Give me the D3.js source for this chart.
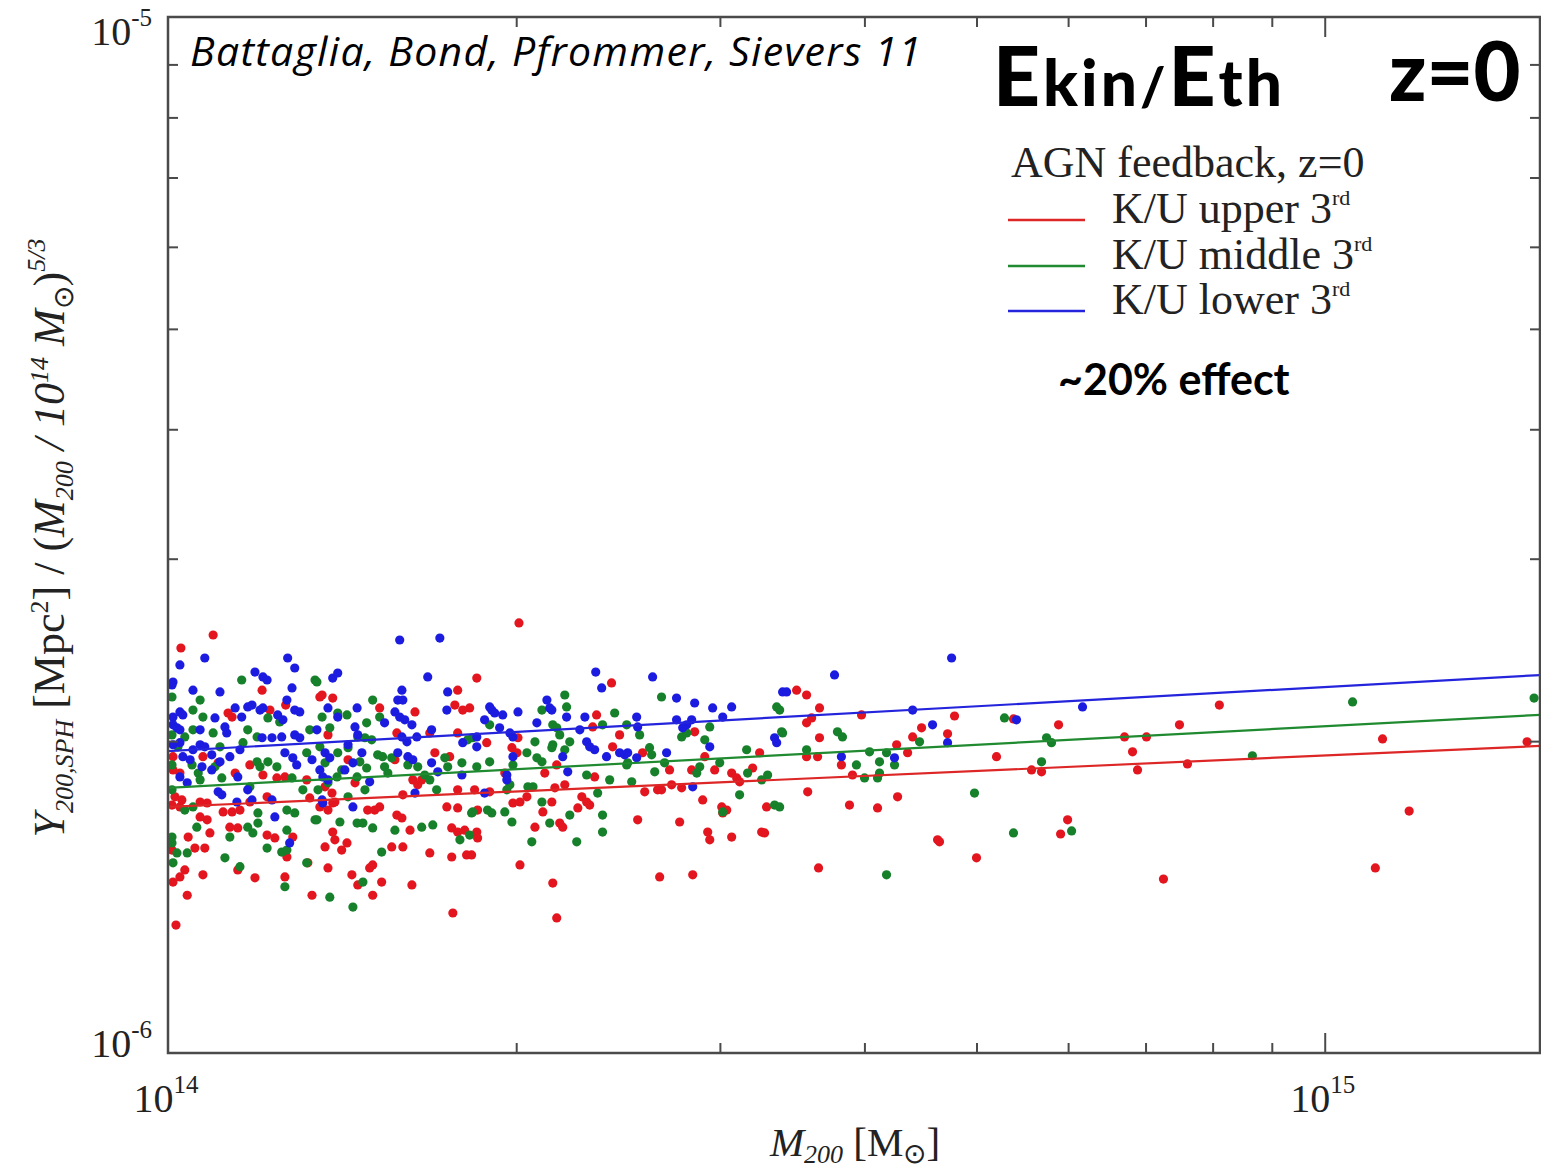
<!DOCTYPE html>
<html>
<head>
<meta charset="utf-8">
<script src="https://cdn.jsdelivr.net/npm/d3@7"></script>
<style>
  html, body { margin: 0; padding: 0; background: #fff; }
  svg { display: block; }
</style>
</head>
<body>
<svg id="chart" width="1541" height="1169"></svg>
<script>
// Y200 scaled by mass^(5/3) versus M200, AGN feedback run at z=0,
// split by kinetic-to-thermal energy ratio (K/U) into thirds.
// Masses are in units of 1e14 Msun, Y in units of 1e-6 Mpc^2.

const series = ["upper", "middle", "lower"];
const seriesLabels = ["K/U upper 3", "K/U middle 3", "K/U lower 3"];

const upperThird = [
  [1.094,2.532],[1.026,2.460],[1.206,2.240],[1.353,2.206],[1.127,2.129],[1.136,2.110],[1.225,2.143],[1.264,2.167],
  [1.010,1.932],[1.072,1.932],[1.105,1.906],[1.010,1.876],[1.024,1.863],[1.143,1.863],[1.177,1.897],[1.208,1.855],
  [1.242,1.843],[1.262,1.847],[1.318,1.835],[1.014,1.767],[1.028,1.755],[1.008,1.735],[1.024,1.728],[1.066,1.747],
  [1.081,1.743],[1.116,1.709],[1.136,1.709],[1.154,1.716],[1.177,1.747],[1.218,1.767],[1.326,1.763],[1.066,1.690],
  [1.081,1.679],[1.131,1.652],[1.149,1.649],[1.087,1.631],[1.041,1.616],[1.218,1.623],[1.237,1.613],[1.282,1.616],
  [1.055,1.577],[1.076,1.577],[1.008,1.570],[1.267,1.546],[1.034,1.502],[1.024,1.479],[1.010,1.462],[1.072,1.486],
  [1.149,1.502],[1.189,1.476],[1.262,1.479],[1.321,1.526],[1.039,1.420],[1.332,1.420],[1.016,1.329],
  [1.849,2.301],[1.359,2.216],[1.388,2.201],[1.780,2.240],[1.770,2.167],[1.798,2.143],[1.823,2.153],[1.524,2.153],
  [1.635,2.134],[1.375,2.028],[1.577,2.037],[1.684,2.037],[1.701,1.949],[1.431,1.919],[1.752,1.932],[1.571,1.919],
  [1.780,2.037],[1.628,1.835],[1.644,1.815],[1.657,1.835],[1.451,1.823],[1.367,1.807],[1.386,1.782],[1.394,1.747],
  [1.353,1.728],[1.375,1.716],[1.388,1.743],[1.488,1.716],[1.509,1.716],[1.524,1.728],[1.596,1.775],[1.780,1.795],
  [1.742,1.728],[1.780,1.724],[1.577,1.697],[1.593,1.686],[1.619,1.641],[1.388,1.634],[1.394,1.606],[1.759,1.649],
  [1.780,1.634],[1.805,1.641],[1.428,1.595],[1.367,1.581],[1.413,1.570],[1.561,1.581],[1.596,1.581],[1.684,1.560],
  [1.759,1.546],[1.812,1.553],[1.375,1.509],[1.442,1.486],[1.494,1.509],[1.503,1.519],[1.459,1.453],[1.530,1.462],
  [1.625,1.453],[1.503,1.420],[1.763,1.365],
  [2.011,2.601],[2.418,2.276],[2.347,2.120],[2.329,2.064],[2.457,2.028],[2.007,2.015],[1.886,1.993],[2.423,1.975],
  [1.983,1.971],[2.003,1.949],[2.168,1.897],[2.117,1.863],[1.955,1.863],[2.338,1.847],[1.841,1.795],[1.897,1.787],
  [2.160,1.803],[2.203,1.815],[2.043,1.767],[2.279,1.767],[2.301,1.747],[2.315,1.735],[2.261,1.724],[1.987,1.743],
  [2.015,1.747],[2.147,1.747],[1.852,1.716],[2.109,1.709],[2.181,1.667],[2.194,1.652],[2.076,1.652],[1.849,1.634],
  [1.852,1.613],[1.830,1.553],[2.015,1.519],[2.151,1.459],[2.168,1.350],
  [2.853,2.042],[2.572,1.949],[2.911,1.932],[3.247,1.949],[2.714,1.876],[2.836,1.876],[2.969,1.876],[3.202,1.884],
  [3.071,1.863],[3.102,1.843],[3.120,1.827],[2.583,1.787],[2.650,1.795],[2.671,1.795],[2.725,1.815],[2.780,1.803],
  [2.899,1.755],[3.011,1.728],[3.041,1.716],[3.017,1.705],[3.292,1.728],[2.547,1.679],[2.769,1.671],[2.928,1.634],
  [2.940,1.606],[3.071,1.616],[3.260,1.634],[3.279,1.631],[2.661,1.479],[2.842,1.486],
  [3.495,2.240],[3.565,2.216],[3.658,2.153],[3.601,2.106],[3.565,2.083],[3.977,2.120],[3.658,2.015],[4.482,2.060],
  [4.403,2.019],[4.265,1.984],[4.359,1.949],[3.565,1.932],[3.644,1.932],[3.821,1.897],[3.906,1.855],[3.573,1.787],
  [4.273,1.767],[3.883,1.735],[4.106,1.724],[4.627,1.606],[3.651,1.509],
  [4.786,2.115],[5.382,2.101],[5.887,2.074],[4.720,2.033],[5.203,1.932],[5.579,1.876],[5.691,1.868],[8.108,2.167],
  [7.489,2.074],[6.713,2.019],[7.013,2.019],[6.821,1.953],[6.889,1.876],[7.609,1.901],[5.994,1.679],[5.911,1.627],
  [4.645,1.599],[5.000,1.543],[7.254,1.472],
  [11.22,2.010],[14.96,1.997],[11.83,1.712],[11.06,1.509]
];

const middleThird = [
  [1.158,2.291],[1.340,2.291],[1.008,2.206],[1.066,2.191],[1.051,2.143],[1.072,2.110],[1.220,2.106],[1.249,2.087],
  [1.008,2.028],[1.034,2.019],[1.051,2.051],[1.094,2.037],[1.172,2.051],[1.194,2.019],[1.326,2.051],[1.020,1.975],
  [1.109,1.975],[1.161,1.993],[1.318,1.949],[1.008,1.897],[1.049,1.897],[1.062,1.863],[1.098,1.889],[1.194,1.910],
  [1.201,1.889],[1.220,1.910],[1.242,1.889],[1.280,1.843],[1.308,1.795],[1.066,1.835],[1.113,1.843],[1.177,1.807],
  [1.008,1.795],[1.034,1.716],[1.051,1.728],[1.196,1.705],[1.267,1.716],[1.287,1.705],[1.340,1.679],[1.059,1.652],
  [1.172,1.652],[1.184,1.631],[1.196,1.667],[1.267,1.641],[1.008,1.616],[1.008,1.595],[1.131,1.616],[1.218,1.577],
  [1.039,1.560],[1.018,1.560],[1.254,1.563],[1.267,1.570],[1.120,1.543],[1.010,1.526],[1.154,1.513],[1.318,1.526],
  [1.262,1.447],
  [1.345,2.281],[1.503,2.191],[1.359,2.110],[1.402,2.129],[1.428,2.120],[1.485,2.083],[1.524,2.110],[1.380,2.060],
  [1.459,2.019],[1.480,2.015],[1.500,2.006],[1.353,1.975],[1.431,1.971],[1.402,1.949],[1.518,1.940],[1.533,1.932],
  [1.465,1.910],[1.485,1.884],[1.367,1.906],[1.561,1.927],[1.539,1.889],[1.549,1.863],[1.612,1.897],[1.644,1.889],
  [1.667,1.855],[1.684,1.835],[1.707,1.795],[1.413,1.876],[1.400,1.847],[1.457,1.847],[1.480,1.795],[1.431,1.767],
  [1.348,1.795],[1.375,1.823],[1.735,1.927],[1.745,1.889],[1.795,1.906],[1.816,2.006],[1.830,1.705],[1.345,1.679],
  [1.408,1.671],[1.457,1.667],[1.474,1.667],[1.503,1.649],[1.571,1.641],[1.657,1.652],[1.694,1.660],[1.788,1.606],
  [1.823,1.623],[1.530,1.563],[1.474,1.462],[1.380,1.414],[1.445,1.383],
  [2.203,2.216],[2.105,2.143],[2.211,2.158],[2.433,2.129],[2.151,2.074],[2.168,2.060],[2.375,2.074],[2.492,2.074],
  [1.897,2.074],[1.834,2.015],[2.076,1.997],[2.151,1.984],[2.147,1.971],[2.181,2.028],[2.225,1.997],[2.203,1.962],
  [2.043,1.949],[2.084,1.927],[2.105,1.910],[1.897,1.910],[1.849,1.889],[1.987,1.897],[2.301,1.855],[2.409,1.835],
  [2.492,1.897],[1.975,1.815],[1.963,1.795],[2.047,1.807],[2.068,1.807],[2.352,1.782],[2.105,1.747],[1.834,1.709],
  [1.889,1.716],[1.905,1.705],[1.955,1.709],[1.983,1.671],[2.138,1.667],[2.225,1.697],[2.375,1.697],[2.375,1.634],
  [2.063,1.599],[2.256,1.599],
  [2.671,2.206],[3.359,2.158],[2.940,2.064],[2.557,2.028],[2.780,2.019],[2.808,2.037],[2.911,2.006],[3.392,2.042],
  [2.608,1.971],[2.619,1.940],[3.164,1.962],[2.497,1.906],[2.635,1.868],[2.687,1.906],[2.882,1.889],[2.865,1.863],
  [2.999,1.906],[3.170,1.863],[3.299,1.855],[3.260,1.835],[2.517,1.827],[3.120,1.775],[3.345,1.735],[3.017,1.709],
  [3.379,2.143],[3.399,2.037],[3.791,2.042],[3.829,2.019],[4.464,1.997],[3.565,1.962],[4.041,1.953],[4.180,1.949],
  [3.937,1.897],[4.122,1.910],[4.247,1.897],[4.001,1.843],[4.106,1.843],[4.122,1.863],[3.379,1.728],[4.180,1.486],
  [5.286,2.106],[5.748,2.015],[5.805,1.993],[5.691,1.910],[4.980,1.782],[5.382,1.631],[6.042,1.638],
  [10.57,2.182],[15.17,2.201],[8.659,1.936]
];

const lowerThird = [
  [1.024,2.369],[1.076,2.406],[1.269,2.406],[1.287,2.353],[1.189,2.332],[1.208,2.307],[1.218,2.291],[1.010,2.281],
  [1.008,2.266],[1.051,2.240],[1.109,2.231],[1.280,2.251],[1.267,2.191],[1.182,2.167],[1.172,2.158],[1.024,2.134],
  [1.030,2.120],[1.010,2.110],[1.143,2.153],[1.158,2.110],[1.098,2.106],[1.201,2.143],[1.208,2.153],[1.244,2.120],
  [1.257,2.097],[1.287,2.143],[1.300,2.134],[1.010,2.074],[1.018,2.060],[1.024,2.051],[1.120,2.064],[1.124,2.037],
  [1.066,2.051],[1.230,2.015],[1.254,2.019],[1.206,2.015],[1.287,2.028],[1.300,2.015],[1.010,1.984],[1.024,1.993],
  [1.066,1.984],[1.076,1.975],[1.051,1.962],[1.154,1.962],[1.091,1.940],[1.131,1.932],[1.262,1.949],[1.282,1.927],
  [1.332,1.919],[1.030,1.932],[1.045,1.919],[1.070,1.889],[1.091,1.876],[1.109,1.910],[1.149,1.847],[1.292,1.897],
  [1.105,1.787],[1.113,1.775],[1.147,1.747],[1.172,1.795],[1.182,1.755],[1.230,1.755],[1.237,1.690],[1.274,1.595],
  [1.024,1.847],[1.039,1.823],
  [1.586,2.504],[1.718,2.515],[1.388,2.301],[1.402,2.327],[1.677,2.307],[1.593,2.240],[1.580,2.191],[1.596,2.191],
  [1.745,2.231],[1.375,2.153],[1.457,2.153],[1.742,2.143],[1.402,2.110],[1.571,2.134],[1.586,2.110],[1.602,2.097],
  [1.539,2.083],[1.451,2.064],[1.625,2.074],[1.345,2.051],[1.690,2.051],[1.593,2.019],[1.609,1.997],[1.431,1.984],
  [1.459,2.028],[1.641,2.019],[1.367,1.949],[1.380,1.927],[1.471,1.949],[1.580,1.949],[1.612,1.932],[1.628,1.919],
  [1.690,1.906],[1.798,1.993],[1.353,1.876],[1.422,1.876],[1.445,1.906],[1.711,1.868],[1.795,1.855],[1.494,1.827],
  [1.361,1.847],[1.375,1.835],[1.359,1.755],[1.361,1.743],[1.445,1.728],[1.635,1.782],
  [2.343,2.332],[2.371,2.251],[2.126,2.191],[2.138,2.153],[2.147,2.143],[1.897,2.158],[1.905,2.143],[1.916,2.129],
  [2.007,2.134],[1.947,2.120],[1.878,2.097],[2.211,2.110],[2.293,2.110],[2.084,2.083],[1.935,2.060],[1.975,2.037],
  [1.987,2.019],[2.270,2.051],[1.849,2.019],[2.301,1.997],[2.315,1.975],[2.338,1.962],[1.849,1.975],[2.394,1.932],
  [2.457,1.949],[2.482,1.940],[2.194,1.932],[1.987,1.932],[2.216,1.868],[1.963,1.855],[1.963,1.835],[1.878,1.782],
  [2.624,2.307],[2.752,2.201],[2.853,2.177],[2.957,2.153],[3.071,2.158],[2.542,2.110],[3.017,2.110],[2.752,2.097],
  [2.836,2.097],[2.808,2.074],[2.786,2.060],[2.547,2.064],[3.399,2.231],[3.345,2.015],[3.359,1.993],[2.940,1.975],
  [2.497,1.949],[2.542,1.927],[2.698,1.949],[2.842,1.807],
  [3.769,2.317],[3.426,2.231],[4.403,2.143],[4.581,2.074],[3.821,1.932],[4.247,1.927],
  [4.758,2.406],[6.175,2.158],[4.720,1.993],[5.414,2.097]
];

// Power-law fits Y = A (M / 1e14)^B, A in 1e-6 Mpc^2
const fitNorm = [1.728, 1.803, 1.956];
const fitSlope = [0.0496, 0.0594, 0.0619];

const colors = ["#e3161f", "#16802a", "#1c1ce0"];
const lineColors = ["#dd2626", "#1f8a2f", "#2424dc"];

const xMinorTicks = [2e14, 3e14, 4e14, 5e14, 6e14, 7e14, 8e14, 9e14];
const xMajorTicks = [1e14, 1e15];
const xTickLabels = ["14", "15"];
const yMinorTicks = [2e-6, 3e-6, 4e-6, 5e-6, 6e-6, 7e-6, 8e-6, 9e-6];
const yMajorTicks = [1e-5, 1e-6];
const yTickLabels = ["-5", "-6"];

const M_UNIT = 1e14, Y_UNIT = 1e-6;

// ---- layout ----
const L = 168, R = 1540, T = 17, B = 1053;
const xMaxMass = 1.535e15;

const svg = d3.select("#chart");
const x = d3.scaleLog().domain([1e14, xMaxMass]).range([L, R]);
const y = d3.scaleLog().domain([1e-6, 1e-5]).range([B, T]);

const serif = "'Liberation Serif', 'Times New Roman', serif";
const sans = "Lato, 'Open Sans', sans-serif";

svg.append("defs").append("clipPath").attr("id", "plotClip")
  .append("rect").attr("x", L).attr("y", T).attr("width", R - L).attr("height", B - T);

// ---- scatter ----
const allSeries = [upperThird, middleThird, lowerThird];
const pts = svg.append("g").attr("clip-path", "url(#plotClip)");
allSeries.forEach((data, i) => {
  pts.append("g").selectAll("circle").data(data).join("circle")
    .attr("cx", d => x(d[0] * M_UNIT))
    .attr("cy", d => y(d[1] * Y_UNIT))
    .attr("r", 4.6)
    .attr("fill", colors[i]);
});

// ---- fit lines ----
const fitLine = d3.line().x(d => x(d[0])).y(d => y(d[1]));
const lineG = svg.append("g").attr("clip-path", "url(#plotClip)");
series.forEach((s, i) => {
  const ends = x.domain().map(m => [m, fitNorm[i] * Y_UNIT * Math.pow(m / M_UNIT, fitSlope[i])]);
  lineG.append("path").attr("d", fitLine(ends))
    .attr("fill", "none").attr("stroke", lineColors[i]).attr("stroke-width", 2.2);
});

// ---- axes (ticks point inward) ----
const axisColor = "#4a4a4a";
function styleAxis(g) {
  g.select(".domain").remove();
  g.selectAll(".tick line").attr("stroke", axisColor).attr("stroke-width", 2);
  g.selectAll(".tick text").remove();
}
svg.append("g").attr("transform", `translate(0,${B})`)
  .call(d3.axisBottom(x).tickValues(xMinorTicks).tickSize(-10)).call(styleAxis);
svg.append("g").attr("transform", `translate(0,${B})`)
  .call(d3.axisBottom(x).tickValues([1e15]).tickSize(-20)).call(styleAxis);
svg.append("g").attr("transform", `translate(0,${T})`)
  .call(d3.axisTop(x).tickValues(xMinorTicks).tickSize(-10)).call(styleAxis);
svg.append("g").attr("transform", `translate(0,${T})`)
  .call(d3.axisTop(x).tickValues([1e15]).tickSize(-20)).call(styleAxis);
svg.append("g").attr("transform", `translate(${L},0)`)
  .call(d3.axisLeft(y).tickValues(yMinorTicks).tickSize(-10)).call(styleAxis);
svg.append("g").attr("transform", `translate(${R},0)`)
  .call(d3.axisRight(y).tickValues(yMinorTicks).tickSize(-10)).call(styleAxis);

// frame
svg.append("rect").attr("x", L).attr("y", T).attr("width", R - L).attr("height", B - T)
  .attr("fill", "none").attr("stroke", axisColor).attr("stroke-width", 2.5);

// tick labels (powers of ten)
xMajorTicks.forEach((v, i) => {
  const t = svg.append("text").attr("x", x(v) - 2).attr("y", 1112)
    .attr("text-anchor", "middle").attr("font-family", serif).attr("font-size", 40).attr("fill", "#222");
  t.append("tspan").text("10");
  t.append("tspan").attr("dy", -19).attr("font-size", 25).text(xTickLabels[i]);
});
yMajorTicks.forEach((v, i) => {
  // top label sits just inside the frame corner, bottom label on the axis line
  const baseY = Math.max(y(v) + 4, T + 28);
  const t = svg.append("text").attr("x", 152).attr("y", baseY)
    .attr("text-anchor", "end").attr("font-family", serif).attr("font-size", 40).attr("fill", "#222");
  t.append("tspan").text("10");
  t.append("tspan").attr("dy", -19).attr("font-size", 25).text(yTickLabels[i]);
});

// x-axis title: M_200 [M_sun]
{
  const t = svg.append("text").attr("x", 855).attr("y", 1156).attr("text-anchor", "middle")
    .attr("font-family", serif).attr("font-size", 41).attr("fill", "#222");
  t.append("tspan").attr("font-style", "italic").text("M");
  t.append("tspan").attr("font-style", "italic").attr("font-size", 26).attr("dy", 7).text("200");
  t.append("tspan").attr("dy", -7).text(" [M");
  t.append("tspan").attr("font-size", 28).attr("dy", 7).text("\u2299");
  t.append("tspan").attr("dy", -7).text("]");
}

// y-axis title
{
  const t = svg.append("text").attr("transform", "translate(64,538) rotate(-90)")
    .attr("text-anchor", "middle").attr("font-family", serif).attr("font-size", 44).attr("fill", "#222");
  t.append("tspan").attr("font-style", "italic").text("Y");
  t.append("tspan").attr("font-style", "italic").attr("font-size", 26).attr("dy", 9).text("200,SPH");
  t.append("tspan").attr("dy", -9).text(" [Mpc");
  t.append("tspan").attr("font-size", 26).attr("dy", -16).text("2");
  t.append("tspan").attr("dy", 16).text("] / (");
  t.append("tspan").attr("font-style", "italic").text("M");
  t.append("tspan").attr("font-style", "italic").attr("font-size", 26).attr("dy", 9).text("200");
  t.append("tspan").attr("font-style", "italic").attr("dy", -9).text(" / 10");
  t.append("tspan").attr("font-style", "italic").attr("font-size", 26).attr("dy", -16).text("14");
  t.append("tspan").attr("font-style", "italic").attr("dy", 16).text(" M");
  t.append("tspan").attr("font-size", 28).attr("dy", 9).text("\u2299");
  t.append("tspan").attr("dy", -9).text(")");
  t.append("tspan").attr("font-style", "italic").attr("font-size", 26).attr("dy", -19).text("5/3");
}

// ---- annotations ----
svg.append("text").attr("x", 190).attr("y", 66)
  .attr("font-family", "'Open Sans', Lato, sans-serif").attr("font-style", "italic")
  .attr("font-size", 41).attr("letter-spacing", 1.3).attr("fill", "#000")
  .text("Battaglia, Bond, Pfrommer, Sievers 11");

{
  const t = svg.append("text").attr("x", 993).attr("y", 106)
    .attr("font-family", sans).attr("font-weight", 900).attr("fill", "#000")
    .attr("letter-spacing", 3);
  t.append("tspan").attr("font-size", 82).text("E");
  t.append("tspan").attr("font-size", 64).text("kin");
  t.append("tspan").attr("font-size", 54).text("/");
  t.append("tspan").attr("font-size", 82).text("E");
  t.append("tspan").attr("font-size", 64).text("th");
}
svg.append("text").attr("x", 1389).attr("y", 101)
  .attr("font-family", sans).attr("font-weight", 900).attr("font-size", 81).attr("fill", "#000")
  .text("z=0");

svg.append("text").attr("x", 1058).attr("y", 395)
  .attr("font-family", sans).attr("font-weight", 700).attr("font-size", 43).attr("fill", "#000")
  .text("~20% effect");

// ---- legend ----
svg.append("text").attr("x", 1011).attr("y", 177)
  .attr("font-family", serif).attr("font-size", 44).attr("fill", "#222")
  .text("AGN feedback, z=0");
const legY = [220, 266, 311];
seriesLabels.forEach((lab, i) => {
  svg.append("line").attr("x1", 1008).attr("x2", 1085).attr("y1", legY[i]).attr("y2", legY[i])
    .attr("stroke", lineColors[i]).attr("stroke-width", 2.5);
  const t = svg.append("text").attr("x", 1112).attr("y", legY[i] + 3)
    .attr("font-family", serif).attr("font-size", 44).attr("fill", "#222");
  t.append("tspan").text(lab);
  t.append("tspan").attr("font-size", 22).attr("dy", -18).text("rd");
});
</script>
</body>
</html>
